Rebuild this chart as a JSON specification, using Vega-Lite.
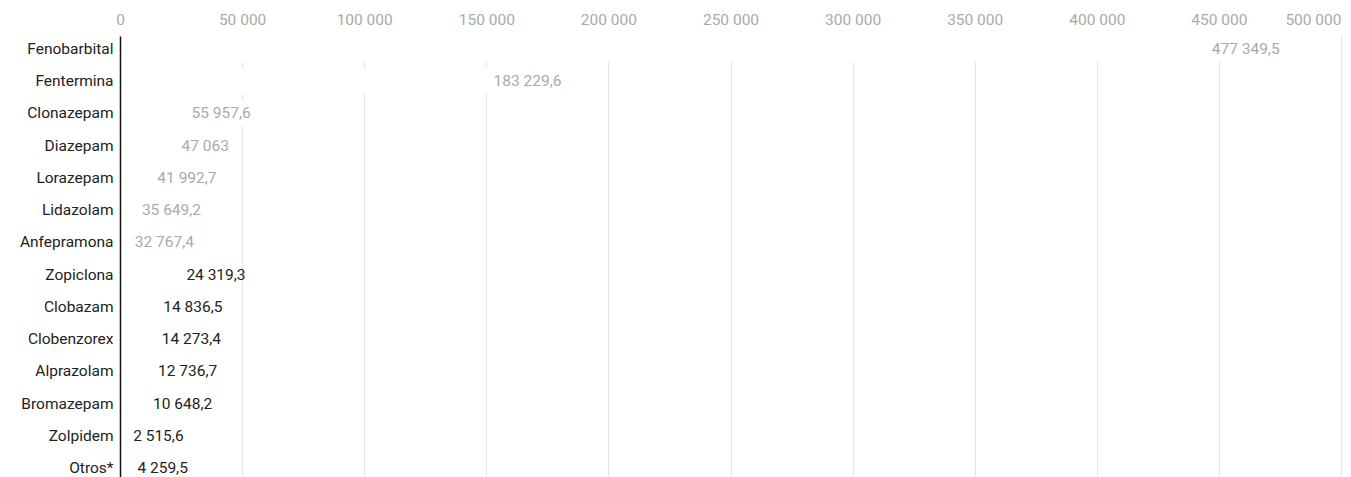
{
  "$schema": "https://vega.github.io/schema/vega-lite/v6.json",
  "autosize": {"type": "none"},
  "padding": {"left": 120, "top": 36, "right": 10, "bottom": 0},
  "width": 1221,
  "height": 441,
  "background": "white",
  "config": {
    "view": {"stroke": null},
    "font": "Roboto",
    "locale": {"number": {"decimal": ",", "thousands": " ", "grouping": [3], "currency": ["", ""]}}
  },
  "data": {
    "values": [
      {"farmaco": "Fenobarbital", "valor": 477349.5},
      {"farmaco": "Fentermina", "valor": 183229.6},
      {"farmaco": "Clonazepam", "valor": 55957.6},
      {"farmaco": "Diazepam", "valor": 47063},
      {"farmaco": "Lorazepam", "valor": 41992.7},
      {"farmaco": "Lidazolam", "valor": 35649.2},
      {"farmaco": "Anfepramona", "valor": 32767.4},
      {"farmaco": "Zopiclona", "valor": 24319.3},
      {"farmaco": "Clobazam", "valor": 14836.5},
      {"farmaco": "Clobenzorex", "valor": 14273.4},
      {"farmaco": "Alprazolam", "valor": 12736.7},
      {"farmaco": "Bromazepam", "valor": 10648.2},
      {"farmaco": "Zolpidem", "valor": 2515.6},
      {"farmaco": "Otros*", "valor": 4259.5}
    ]
  },
  "encoding": {
    "y": {
      "field": "farmaco", "type": "nominal", "sort": null,
      "scale": {"paddingInner": 0.2, "paddingOuter": 0, "range": [0, 445]},
      "axis": {"title": null, "ticks": false, "zindex": 1, "domainColor": "#111", "domainWidth": 1.5, "labelColor": "#222", "labelFontSize": 15.5, "labelPadding": 7, "grid": false}
    },
    "x": {
      "field": "valor", "type": "quantitative",
      "scale": {"domain": [0, 500000], "nice": false},
      "axis": {"orient": "top", "title": null, "ticks": false, "domain": false, "values": [0, 50000, 100000, 150000, 200000, 250000, 300000, 350000, 400000, 450000, 500000], "format": ",.0f", "labelColor": "#aaaaaa", "labelFontSize": 15.5, "labelPadding": 9, "gridColor": "#e5e5e5", "gridWidth": 1, "labelAlign": {"condition": {"test": "datum.value >= 500000", "value": "right"}, "value": "center"}}
    }
  },
  "layer": [
    {"mark": {"type": "bar", "color": "white"}},
    {
      "transform": [{"filter": "datum.valor >= 30000"}],
      "mark": {"type": "text", "align": "right", "dx": -6, "color": "#aaaaaa", "fontSize": 15.5, "baseline": "middle"},
      "encoding": {"text": {"field": "valor", "type": "quantitative", "format": ",.1~f"}}
    },
    {
      "transform": [{"filter": "datum.valor < 30000"}],
      "mark": {"type": "text", "align": "left", "dx": 7, "color": "#222222", "fontSize": 15.5, "baseline": "middle"},
      "encoding": {"text": {"field": "valor", "type": "quantitative", "format": ",.1~f"}}
    }
  ]
}
